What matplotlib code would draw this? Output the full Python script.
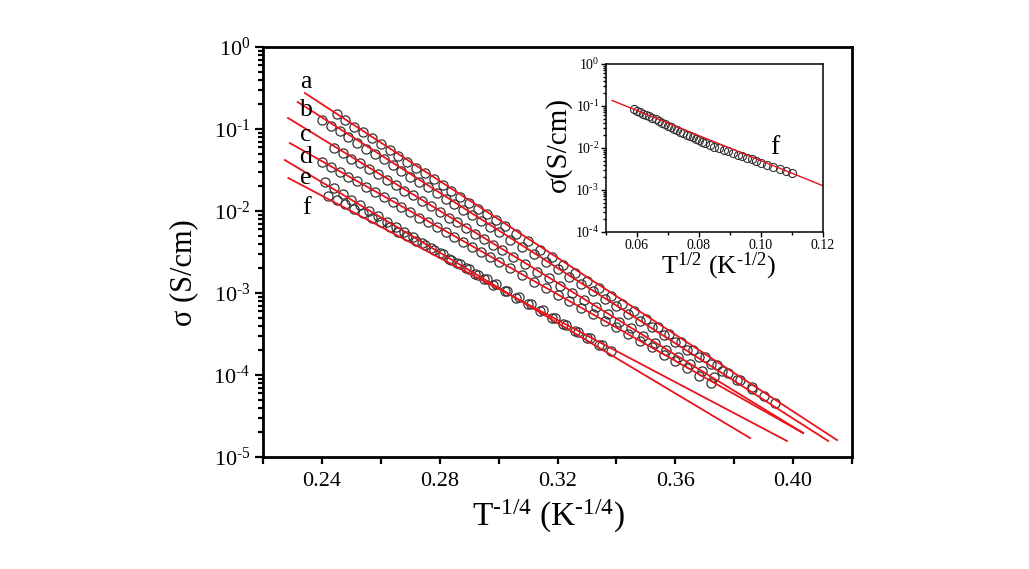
import numpy as np
import matplotlib
matplotlib.use("Agg")
import matplotlib.pyplot as plt
from matplotlib.ticker import FixedLocator, LogLocator, NullFormatter, FuncFormatter

plt.rcParams['font.family'] = ['Liberation Serif', 'DejaVu Serif']
plt.rcParams['mathtext.fontset'] = 'custom'
plt.rcParams['mathtext.rm'] = 'Liberation Serif'
plt.rcParams['mathtext.it'] = 'Liberation Serif:italic'

# ---- main data: x = T^-1/4 (K^-1/4), y = log10(sigma / S cm^-1) ----
labels = ['a', 'b', 'c', 'd', 'e', 'f']

a_x = [0.245, 0.248, 0.251, 0.254, 0.257, 0.260, 0.263, 0.266, 0.269, 0.272, 0.275, 0.278,
       0.281, 0.284, 0.287, 0.290, 0.293, 0.296, 0.299, 0.302, 0.306, 0.310, 0.314, 0.318,
       0.322, 0.326, 0.330, 0.334, 0.338, 0.342, 0.346, 0.350, 0.354, 0.358, 0.362, 0.366,
       0.370, 0.374, 0.378, 0.382, 0.386, 0.390, 0.394]
a_y = [-0.82, -0.89, -0.97, -1.04, -1.11, -1.18, -1.25, -1.33, -1.40, -1.47, -1.54, -1.61,
       -1.68, -1.76, -1.83, -1.90, -1.97, -2.04, -2.11, -2.18, -2.28, -2.37, -2.47, -2.56,
       -2.66, -2.75, -2.85, -2.94, -3.04, -3.13, -3.22, -3.32, -3.41, -3.50, -3.60, -3.69,
       -3.78, -3.88, -3.97, -4.06, -4.15, -4.25, -4.34]

b_x = [0.240, 0.243, 0.246, 0.249, 0.252, 0.255, 0.258, 0.261, 0.264, 0.267, 0.270, 0.273,
       0.276, 0.279, 0.282, 0.285, 0.288, 0.291, 0.294, 0.297, 0.300, 0.304, 0.308, 0.312,
       0.316, 0.320, 0.324, 0.328, 0.332, 0.336, 0.340, 0.344, 0.348, 0.352, 0.356, 0.360,
       0.364, 0.368, 0.372, 0.376, 0.381, 0.386]
b_y = [-0.89, -0.96, -1.03, -1.10, -1.17, -1.24, -1.30, -1.37, -1.44, -1.51, -1.58, -1.65,
       -1.71, -1.78, -1.85, -1.92, -1.99, -2.05, -2.12, -2.19, -2.26, -2.35, -2.44, -2.53,
       -2.62, -2.71, -2.80, -2.89, -2.98, -3.07, -3.16, -3.25, -3.34, -3.42, -3.51, -3.60,
       -3.69, -3.78, -3.86, -3.95, -4.06, -4.17]

c_x = [0.244, 0.247, 0.250, 0.253, 0.256, 0.259, 0.262, 0.265, 0.268, 0.271, 0.274, 0.277,
       0.280, 0.283, 0.286, 0.289, 0.292, 0.295, 0.298, 0.301, 0.305, 0.309, 0.313, 0.317,
       0.321, 0.325, 0.329, 0.333, 0.337, 0.341, 0.345, 0.349, 0.353, 0.357, 0.361, 0.365,
       0.369, 0.373]
c_y = [-1.23, -1.29, -1.36, -1.42, -1.49, -1.55, -1.62, -1.68, -1.75, -1.81, -1.88, -1.94,
       -2.01, -2.08, -2.14, -2.21, -2.28, -2.34, -2.41, -2.47, -2.56, -2.65, -2.74, -2.82,
       -2.91, -3.00, -3.09, -3.17, -3.26, -3.35, -3.43, -3.52, -3.61, -3.69, -3.78, -3.86,
       -3.95, -4.03]

d_x = [0.240, 0.243, 0.246, 0.249, 0.252, 0.255, 0.258, 0.261, 0.264, 0.267, 0.270, 0.273,
       0.276, 0.279, 0.282, 0.285, 0.288, 0.291, 0.294, 0.297, 0.300, 0.304, 0.308, 0.312,
       0.316, 0.320, 0.324, 0.328, 0.332, 0.336, 0.340, 0.344, 0.348, 0.352, 0.356, 0.360,
       0.364, 0.368, 0.372]
d_y = [-1.40, -1.46, -1.52, -1.58, -1.64, -1.71, -1.77, -1.83, -1.89, -1.95, -2.01, -2.08,
       -2.14, -2.20, -2.26, -2.32, -2.38, -2.44, -2.50, -2.56, -2.62, -2.70, -2.78, -2.86,
       -2.94, -3.02, -3.10, -3.18, -3.26, -3.34, -3.42, -3.50, -3.58, -3.66, -3.75, -3.83,
       -3.92, -4.01, -4.10]

e_x = [0.241, 0.244, 0.247, 0.250, 0.253, 0.256, 0.259, 0.262, 0.265, 0.268, 0.271, 0.274,
       0.277, 0.280, 0.283, 0.286, 0.289, 0.292, 0.295, 0.298, 0.302, 0.306, 0.310, 0.314,
       0.318, 0.322, 0.326, 0.330, 0.334, 0.338]
e_y = [-1.65, -1.72, -1.79, -1.86, -1.93, -2.00, -2.06, -2.13, -2.19, -2.26, -2.32, -2.39,
       -2.45, -2.51, -2.58, -2.64, -2.70, -2.77, -2.83, -2.90, -2.98, -3.06, -3.14, -3.22,
       -3.30, -3.38, -3.46, -3.55, -3.63, -3.71]

f_x = [0.242, 0.245, 0.248, 0.251, 0.254, 0.257, 0.260, 0.263, 0.266, 0.269, 0.272, 0.275,
       0.278, 0.281, 0.284, 0.287, 0.290, 0.293, 0.296, 0.299, 0.303, 0.307, 0.311, 0.315,
       0.319, 0.323, 0.327, 0.331, 0.335]
f_y = [-1.82, -1.87, -1.92, -1.97, -2.02, -2.08, -2.13, -2.19, -2.25, -2.30, -2.36, -2.42,
       -2.47, -2.53, -2.60, -2.65, -2.71, -2.78, -2.83, -2.89, -2.98, -3.05, -3.14, -3.21,
       -3.30, -3.39, -3.47, -3.55, -3.63]

# fitted lines: log10(sigma) = A + B*x, drawn from x0 to x1
fit_A = [4.924, 4.649, 4.152, 3.477, 3.502, 2.732]
fit_B = [-23.42, -22.95, -21.96, -20.29, -21.46, -18.94]
fit_x0 = [0.2342, 0.2318, 0.2285, 0.2291, 0.2274, 0.2286]
fit_x1 = [0.4149, 0.4119, 0.4034, 0.4034, 0.3854, 0.3979]

# inset: sample f, x = T^-1/2 (K^-1/2)
in_x = [0.059, 0.060, 0.061, 0.062, 0.063, 0.064, 0.065, 0.066, 0.067, 0.068,
        0.069, 0.070, 0.071, 0.072, 0.073, 0.074, 0.075, 0.076, 0.077, 0.078,
        0.079, 0.080, 0.081, 0.082, 0.0835, 0.085, 0.0865, 0.088, 0.0895, 0.091,
        0.0925, 0.094, 0.0955, 0.097, 0.0985, 0.100, 0.102, 0.104, 0.106, 0.108, 0.110]
in_y = [-1.08, -1.11, -1.15, -1.18, -1.22, -1.25, -1.29, -1.32, -1.36, -1.40,
        -1.43, -1.47, -1.50, -1.54, -1.57, -1.61, -1.65, -1.68, -1.72, -1.75,
        -1.79, -1.82, -1.86, -1.89, -1.93, -1.97, -2.01, -2.05, -2.08, -2.12,
        -2.16, -2.20, -2.24, -2.27, -2.31, -2.35, -2.40, -2.45, -2.50, -2.55, -2.60]
in_fit_x = [0.052, 0.120]
in_fit_y = [-0.87, -2.90]

series_x = [a_x, b_x, c_x, d_x, e_x, f_x]
series_y = [a_y, b_y, c_y, d_y, e_y, f_y]
label_pos = [(0.2346, -0.43), (0.2346, -0.77), (0.2346, -1.07), (0.2346, -1.34),
             (0.2346, -1.60), (0.2346, -1.96)]

red = '#e8141b'
edge = '#333333'


def pow10(v, pos):
    # tick labels like 10^-3 with a short hyphen, as in the original figure
    e = int(round(np.log10(v)))
    return r'$\mathregular{10^{\text{%d}}}$' % e


fig = plt.figure(figsize=(10.29, 5.69), dpi=100)
ax = fig.add_axes([0.2556, 0.1968, 0.5724, 0.7206])

for xs, ys in zip(series_x, series_y):
    ax.plot(xs, 10 ** np.array(ys), 'o', mfc='none', mec=edge, ms=6.6, mew=0.9, zorder=2)
for A, B, x0, x1 in zip(fit_A, fit_B, fit_x0, fit_x1):
    xx = np.array([x0, x1])
    ax.plot(xx, 10 ** (A + B * xx), '-', color=red, lw=1.3, zorder=3)
for lab, (lx, ly) in zip(labels, label_pos):
    ax.text(lx, 10 ** ly, lab, fontsize=18.5, ha='center', va='center')

ax.set_yscale('log')
ax.set_xlim(0.22, 0.42)
ax.set_ylim(1e-5, 1)
ax.xaxis.set_major_locator(FixedLocator([0.24, 0.28, 0.32, 0.36, 0.40]))
ax.xaxis.set_minor_locator(FixedLocator([0.22, 0.26, 0.30, 0.34, 0.38, 0.42]))
ax.xaxis.set_ticklabels(['0.24', '0.28', '0.32', '0.36', '0.40'])
ax.yaxis.set_major_locator(LogLocator(base=10, numticks=10))
ax.yaxis.set_minor_locator(LogLocator(base=10, subs=np.arange(2, 10), numticks=10))
ax.yaxis.set_major_formatter(FuncFormatter(pow10))
ax.yaxis.set_minor_formatter(NullFormatter())
for s in ax.spines.values():
    s.set_linewidth(2.0)
ax.tick_params(which='both', direction='out', top=False, right=False, width=1.6, labelsize=16)
ax.tick_params(axis='y', which='major', length=6, pad=3)
ax.tick_params(axis='y', which='minor', length=3.5)
ax.tick_params(axis='x', which='major', length=5, pad=6)
ax.tick_params(axis='x', which='minor', length=5)
ax.set_xlabel(r'T$^{\text{-1/4}}$ (K$^{\text{-1/4}}$)', fontsize=24)
ax.set_ylabel('σ (S/cm)', fontsize=22)
ax.xaxis.set_label_coords(0.485, -0.10)
ax.yaxis.set_label_coords(-0.11, 0.45)

# inset
ins = fig.add_axes([0.5889, 0.5923, 0.2109, 0.2953])
ins.plot(in_x, 10 ** np.array(in_y), 'o', mfc='none', mec=edge, ms=5.8, mew=0.8)
ins.plot(in_fit_x, 10 ** np.array(in_fit_y), '-', color=red, lw=1.0)
ins.text(0.1045, 10 ** -1.99, 'f', fontsize=20, ha='center', va='center')
ins.set_yscale('log')
ins.set_xlim(0.05, 0.12)
ins.set_ylim(1e-4, 1)
ins.xaxis.set_major_locator(FixedLocator([0.06, 0.08, 0.10, 0.12]))
ins.xaxis.set_minor_locator(FixedLocator([0.05, 0.07, 0.09, 0.11]))
ins.xaxis.set_ticklabels(['0.06', '0.08', '0.10', '0.12'])
ins.yaxis.set_major_locator(LogLocator(base=10, numticks=10))
ins.yaxis.set_minor_locator(LogLocator(base=10, subs=np.arange(2, 10), numticks=10))
ins.yaxis.set_major_formatter(FuncFormatter(pow10))
ins.yaxis.set_minor_formatter(NullFormatter())
for s in ins.spines.values():
    s.set_linewidth(1.1)
ins.tick_params(which='both', direction='out', top=False, right=False, width=1.0,
                labelsize=10, pad=1.5)
ins.tick_params(which='major', length=3.5)
ins.tick_params(which='minor', length=2)
ins.set_xlabel(r'T$^{\text{1/2}}$ (K$^{\text{-1/2}}$)', fontsize=19)
ins.set_ylabel('σ(S/cm)', fontsize=21)
ins.xaxis.set_label_coords(0.52, -0.11)
ins.yaxis.set_label_coords(-0.155, 0.52)

fig.savefig('out.png', dpi=100)
